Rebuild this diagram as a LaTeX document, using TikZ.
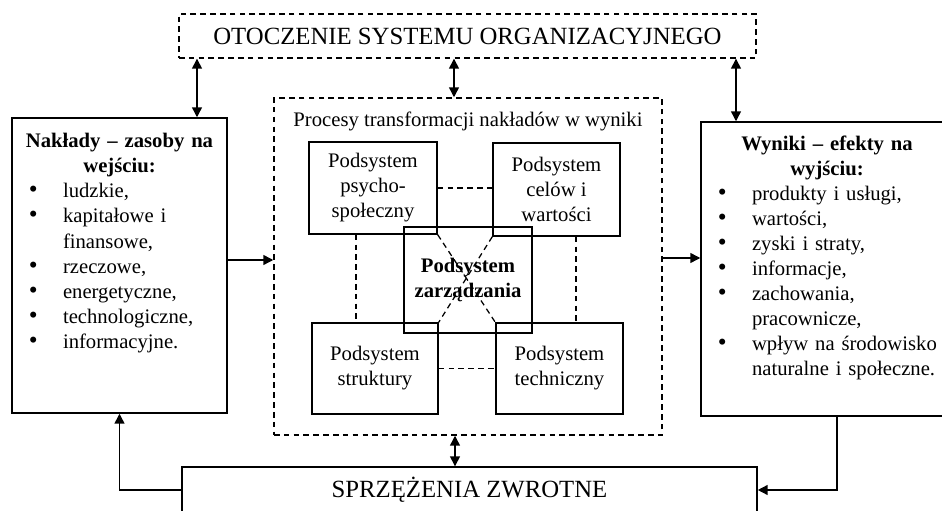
\documentclass[tikz,border=0pt]{standalone}
\usepackage{fontspec}
\setmainfont{Liberation Serif}
\usetikzlibrary{arrows.meta,calc}
\tikzset{
  frame/.style={draw, line width=1pt, inner sep=0pt, align=center, font=\bodysize},
  dframe/.style={frame, dash pattern=on 4pt off 3pt},
  link/.style={line width=0.9pt, dash pattern=on 4pt off 3pt},
  arr/.style={line width=1pt, -{Triangle[length=7pt,width=7pt]}},
  darr/.style={line width=1pt, {Triangle[length=7pt,width=7pt]}-{Triangle[length=7pt,width=7pt]}},
  listtxt/.style={inner sep=0pt, align=left, font=\bodysize},
}
\newcommand{\bodysize}{\fontsize{14.7pt}{17.8pt}\selectfont}
\newcommand{\bigsize}{\fontsize{17.6pt}{21pt}\selectfont}
\newcommand{\pnt}[1]{\par\hangindent=36.3pt\hangafter=1\noindent\hbox to 36.3pt{\hskip 12pt{\fontsize{18pt}{18pt}\selectfont\textbullet}\hfil}#1}

\begin{document}
\begin{tikzpicture}[x=0.025cm, y=-0.025cm]
  %%%%% START %%%%%
  \useasboundingbox (0,0) rectangle (942,511);

  % otoczenie i sprzezenia
  \node[dframe, minimum width=14.425cm, minimum height=1.1cm, font=\bigsize] (otocz) at (467.5,36) {OTOCZENIE SYSTEMU ORGANIZACYJNEGO};
  \node[frame, minimum width=14.375cm, minimum height=1.15cm, font=\bigsize] (sprz) at (469.5,490) {SPRZĘŻENIA ZWROTNE};

  % naklady i wyniki
  \node[frame, minimum width=5.375cm, minimum height=7.375cm] (naklady) at (119.5,265.5) {};
  \node[listtxt, text width=5.375cm, anchor=north] (nakladytxt) at ([yshift=-0.4cm]naklady.north)
    {{\centering\bfseries Nakłady – zasoby na\\wejściu:\par}
     \pnt{ludzkie,}
     \pnt{kapitałowe i\break finansowe,}
     \pnt{rzeczowe,}
     \pnt{energetyczne,}
     \pnt{technologiczne,}
     \pnt{informacyjne.}\par};

  \node[frame, minimum width=6.3cm, minimum height=7.35cm] (wyniki) at (827,269) {};
  \node[listtxt, text width=6.3cm, anchor=north] (wynikitxt) at ([yshift=-0.35cm]wyniki.north)
    {{\centering\bfseries Wyniki – efekty na\\wyjściu:\par}
     \pnt{produkty i usługi,}
     \pnt{wartości,}
     \pnt{zyski i straty,}
     \pnt{informacje,}
     \pnt{zachowania,\break pracownicze,}
     \pnt{wpływ na środowisko\break naturalne i społeczne.}\par};

  % procesy transformacji
  \node[dframe, minimum width=9.7cm, minimum height=8.425cm] (proc) at (468,266.5) {};
  \node[inner sep=0pt, font=\bodysize, anchor=north] (proctxt) at ([yshift=-0.35cm]proc.north)
    {Procesy transformacji nakładów w wyniki};

  \node[frame, minimum width=3.2cm, minimum height=2.3cm] (psycho) at (373,188) {Podsystem\\psycho-\\społeczny};
  \node[frame, minimum width=3.175cm, minimum height=2.325cm] (celow) at (556.5,189.5) {Podsystem\\celów i\\wartości};
  \node[frame, minimum width=3.15cm, minimum height=2.275cm] (strukt) at (375,368.5) {Podsystem\\struktury};
  \node[frame, minimum width=3.175cm, minimum height=2.275cm] (techn) at (559.5,368.5) {Podsystem\\techniczny};
  \node[frame, minimum width=3.2cm, minimum height=2.65cm, font=\bodysize\bfseries] (zarz) at (468,280) {Podsystem\\zarządzania};

  % powiazania podsystemow
  \coordinate (v1) at (356,0);
  \coordinate (v2) at (576,0);
  \draw[link] (psycho.east) -- (psycho.east -| celow.west);
  \draw[link] (strukt.east) -- (strukt.east -| techn.west);
  \draw[link] (v1 |- psycho.south) -- (v1 |- strukt.north);
  \draw[link] (v2 |- celow.south) -- (v2 |- techn.north);
  \draw[link] (psycho.south east) -- (techn.north west);
  \draw[link] (celow.south west) -- (strukt.north east);

  % strzalki
  \coordinate (t1) at (197,0);
  \coordinate (t2) at (454,0);
  \coordinate (t3) at (736,0);
  \draw[darr] (t1 |- otocz.south) -- (t1 |- naklady.north);
  \draw[darr] (t2 |- otocz.south) -- (t2 |- proc.north);
  \draw[darr] (t3 |- otocz.south) -- (t3 |- wyniki.north);

  \coordinate (m1) at (0,260);
  \coordinate (m2) at (0,258);
  \draw[arr] (m1 -| naklady.east) -- (m1 -| proc.west);
  \draw[arr] (m2 -| proc.east) -- (m2 -| wyniki.west);

  \coordinate (b1) at (455,0);
  \coordinate (f2) at (837,0);
  \draw[darr] (b1 |- proc.south) -- (b1 |- sprz.north);
  \draw[arr] (sprz.west) -| (naklady.south);
  \draw[arr] (f2 |- wyniki.south) |- (sprz.east);

  %%%%% END %%%%%
\end{tikzpicture}
\end{document}
